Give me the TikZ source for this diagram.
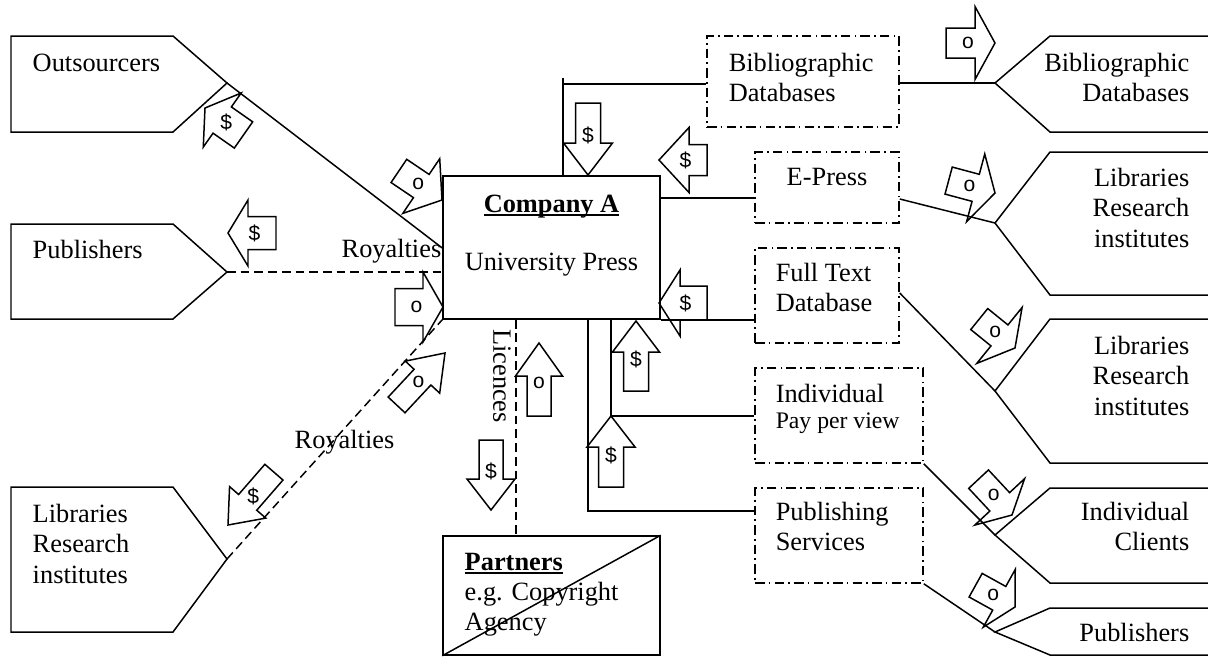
\documentclass[tikz,border=0pt]{standalone}
\usepackage{fontspec}
\setmainfont{Liberation Serif}
\newfontfamily\arrowfont{Liberation Sans}
% stacked lines with the baseline of the first line as reference
\newcommand\linesleft[1]{\vtop{\halign{##\hfil\cr#1\crcr}}}
\newcommand\linesright[1]{\vtop{\halign{\hfil##\cr#1\crcr}}}
% underline set just below the baseline
\newcommand\ulword[1]{\setbox0=\hbox{#1}\rlap{\rule[-2.4pt]{\wd0}{1.1pt}}\box0}
\def\pxu{0.02cm}
\begin{document}
\begin{tikzpicture}[x=0.02cm,y=-0.02cm,line width=0.85pt,
  txt/.style={inner sep=0pt,font=\fontsize{15}{17.5}\selectfont},
  smalltxt/.style={inner sep=0pt,font=\fontsize{13.5}{15}\selectfont},
  box/.style 2 args={draw,rectangle,inner sep=0pt,minimum width=#1*\pxu,minimum height=#2*\pxu},
  dashdot/.style={dash pattern=on 5.5pt off 2.3pt on 1pt off 2.3pt},
  dashline/.style={dash pattern=on 5pt off 2.8pt},
  pics/flowarrow/.style n args={5}{code={
    \draw (0,0) -- (-#2,#3/2) -- (-#2,#4/2) -- (-#1,#4/2) -- (-#1,-#4/2)
      -- (-#2,-#4/2) -- (-#2,-#3/2) -- cycle;
    \node[inner sep=0pt,font=\arrowfont\fontsize{12}{14}\selectfont] (-lab) at (-0.55*#1,0) {#5};
  }}]
\useasboundingbox (0,0) rectangle (1208,657);

% ---------- central boxes ----------
\node[box={217}{143}] (cA) at (551.5,247.5) {};
\node[txt,anchor=base] (cAtitle) at (551.5,212) {\ulword{\bfseries Company A}};
\node[txt,anchor=base] (cAsub) at (551.5,270) {University Press};

\node[box={217}{119}] (pt) at (551.5,595.5) {};
\draw (pt.south west) -- (pt.north east);
\node[txt,anchor=base west] (ptT) at (464,570) {\ulword{\bfseries Partners}};
\node[txt,anchor=base west] (ptB) at (464,600) {\linesleft{e.g. Copyright\cr Agency}};

% ---------- left partners ----------
\draw (11,36) -- (173,36) -- (227,83) coordinate (outsTip) -- (173,132) -- (11,132) -- cycle;
\node[txt,anchor=base west] (outsT) at (32,71) {Outsourcers};
\draw (11,224) -- (173,224) -- (227,272) coordinate (pubTip) -- (173,319) -- (11,319) -- cycle;
\node[txt,anchor=base west] (pubT) at (32,258) {Publishers};
\draw (11,487) -- (173,487) -- (227,559) coordinate (libTip) -- (173,632) -- (11,632) -- cycle;
\node[txt,anchor=base west] (libT) at (32,522) {\linesleft{Libraries\cr Research\cr institutes}};

\draw (outsTip) -- (cA.west |- 0,248);
\draw[dashline] (pubTip) -- (cA.west |- pubTip);
\draw[dashline] (libTip) -- (cA.south west);
\node[txt,anchor=base east] (roy1) at (442,257) {Royalties};
\node[txt,anchor=base west] (roy2) at (294,448) {Royalties};

\draw[dashline] (cA.south -| 516,0) -- (pt.north -| 516,0);
\node[txt,rotate=-90] (lic) at (502,376) {Licences};

% ---------- products ----------
\node[box={192}{91},dashdot] (bib) at (803,81.5) {};
\node[txt,anchor=base west] (bibT) at (728,71) {\linesleft{Bibliographic\cr Databases}};
\node[box={144}{71},dashdot] (ep) at (827,187.5) {};
\node[txt,anchor=base] (epT) at (827,185) {E-Press};
\node[box={144}{95},dashdot] (ft) at (827,295.5) {};
\node[txt,anchor=base west] (ftT) at (775,281) {\linesleft{Full Text\cr Database}};
\node[box={168}{95},dashdot] (ind) at (839,415.5) {};
\node[txt,anchor=base west] (indT) at (775,402) {Individual};
\node[smalltxt,anchor=base west] (indS) at (775,428) {Pay per view};
\node[box={168}{95},dashdot] (ps) at (839,535.5) {};
\node[txt,anchor=base west] (psT) at (775,520) {\linesleft{Publishing\cr Services}};

\coordinate (bibturn) at (563,84);
\draw (cA.north -| bibturn) -- (563,78);
\draw (bibturn) -- (bibturn -| bib.west);
\draw (cA.east |- 0,198) -- (ep.west |- 0,198);
\draw (cA.south east) -- (ft.west |- cA.south east);
\draw (cA.south -| 611,0) |- (ind.west |- 0,416);
\draw (cA.south -| 588,0) |- (ps.west |- 0,511);

% ---------- right customers ----------
\draw (1208,36) -- (1050,36) -- (995,83) coordinate (rbibTip) -- (1050,132) -- (1208,132);
\node[txt,anchor=base east] (rbibT) at (1190,71) {\linesright{Bibliographic\cr Databases}};
\draw (1208,152) -- (1050,152) -- (995,223) coordinate (rlibaTip) -- (1050,295) -- (1208,295);
\node[txt,anchor=base east] (rlibaT) at (1190,186) {\linesright{Libraries\cr Research\cr institutes}};
\draw (1208,319) -- (1050,319) -- (995,391) coordinate (rlibbTip) -- (1050,463) -- (1208,463);
\node[txt,anchor=base east] (rlibbT) at (1190,354) {\linesright{Libraries\cr Research\cr institutes}};
\draw (1208,488) -- (1050,488) -- (995,535) coordinate (rindTip) -- (1050,583) -- (1208,583);
\node[txt,anchor=base east] (rindT) at (1190,520) {\linesright{Individual\cr Clients}};
\draw (1208,608) -- (1050,608) -- (995,632) coordinate (rpubTip) -- (1050,655) -- (1208,655);
\node[txt,anchor=base east] (rpubT) at (1190,641) {Publishers};

\draw (bib.east |- rbibTip) -- (rbibTip);
\draw (ep.east |- 0,199) -- (rlibaTip);
\draw (ft.east |- 0,293) -- (rlibbTip);
\draw (ind.south east) -- (rindTip);
\draw (ps.south east) -- (rpubTip);

% ---------- money and offer flows ----------
\pic[rotate=145] (a1) at (205,108) {flowarrow={47}{21}{66}{32}{\$}};
\pic[rotate=-34] (a2) at (442,200) {flowarrow={52}{25}{66}{28}{o}};
\pic[rotate=0] (a3) at (443,307) {flowarrow={48}{20}{70}{37}{o}};
\pic[rotate=47] (a4) at (445,353) {flowarrow={71}{33}{47}{23}{o}};
\pic[rotate=229] (a5) at (228,525) {flowarrow={70}{30}{48}{24}{\$}};
\pic[rotate=180] (a6) at (228,233) {flowarrow={48}{20}{66}{33}{\$}};
\pic[rotate=-90] (a7) at (588,175) {flowarrow={72}{32}{49}{25}{\$}};
\pic[rotate=180] (a8) at (659,160) {flowarrow={48}{30}{65}{31}{\$}};
\pic[rotate=180] (a9) at (659,303) {flowarrow={48}{21}{66}{34}{\$}};
\pic[rotate=90] (a10) at (636,321) {flowarrow={70}{31}{47}{25}{\$}};
\pic[rotate=90] (a11) at (611,416) {flowarrow={71}{31}{48}{25}{\$}};
\pic[rotate=90] (a12) at (539,343) {flowarrow={73}{33}{47}{24}{o}};
\pic[rotate=-90] (a13) at (491,510) {flowarrow={70}{31}{48}{24}{\$}};
\pic[rotate=0] (a14) at (995,43) {flowarrow={49}{20}{73}{30}{o}};
\pic[rotate=-15] (a15) at (995,193) {flowarrow={48}{20}{70}{28}{o}};
\pic[rotate=-39] (a16) at (1015,348) {flowarrow={46}{20}{72}{27}{o}};
\pic[rotate=-47] (a17) at (1012,515) {flowarrow={49}{18}{68}{27}{o}};
\pic[rotate=-29] (a18) at (1015,607) {flowarrow={45}{18}{66}{27}{o}};
\end{tikzpicture}
\end{document}
